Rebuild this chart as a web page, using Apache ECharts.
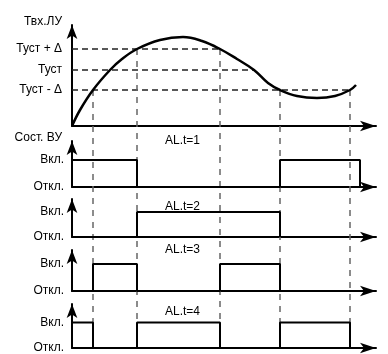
<!DOCTYPE html>
<html>
<head>
<meta charset="utf-8">
<script src="https://cdn.jsdelivr.net/npm/echarts@6/dist/echarts.min.js"></script>
<style>
html, body { margin: 0; padding: 0; background: #fff; }
#chart { width: 388px; height: 354px; }
</style>
</head>
<body>
<div id="chart"></div>
<script>
// входной сигнал ЛУ: время и значение
const curveT = [0, 8, 21, 38, 50, 65, 88, 111, 130, 148, 165, 182, 196, 208, 225, 245, 263, 278, 284]
const curveV = [0, 16, 36, 56, 67, 77, 86, 89, 85, 77, 67, 56, 43, 36, 30, 28, 30, 36, 41]

// уставки
const thresholdNames = ['Туст - Δ', 'Туст', 'Туст + Δ']
const thresholdValues = [36, 56, 77]
const thresholdEnds = [278, 182, 148]

// моменты пересечения уставок
const switchTimes = [21, 65, 148, 208, 278]
const switchLevels = [36, 77, 77, 36, 36]

// состояние ВУ
const stateLabels = ['Откл.', 'Вкл.']
const alNames = ['AL.t=1', 'AL.t=2', 'AL.t=3', 'AL.t=4']
const alEdges = [
  [0, 65, 208, 288],
  [0, 65, 208],
  [0, 21, 65, 148, 208],
  [0, 21, 65, 148, 208, 278]
]
const alStates = [
  [1, 0, 1, 0],
  [0, 1, 0],
  [0, 1, 0, 1, 0],
  [1, 0, 1, 0, 1, 0]
]

// раскладка
const T_MAX = 304
const V_MAX = 101
const topGrid = { left: 72, right: 12, top: 25, height: 101 }
const stepGrids = [
  { top: 141, height: 46, max: 1.70, labelY: 141 },
  { top: 199, height: 38, max: 1.52, labelY: 207 },
  { top: 250, height: 41, max: 1.52, labelY: 250 },
  { top: 304, height: 45, max: 1.73, labelY: 312 }
]
const overlay = { top: 25, height: 324 }
const OV_MIN = V_MAX - overlay.height

const FONT = 'Liberation Sans, Arial, sans-serif'

const axisLineStyle = (size) => ({
  show: true,
  symbol: ['none', 'arrow'],
  symbolSize: size,
  lineStyle: { color: '#000', width: 2 }
})

const makeX = (gi) => ({
  type: 'value', gridIndex: gi, min: 0, max: T_MAX,
  axisLine: axisLineStyle([8, 16]),
  axisTick: { show: false }, axisLabel: { show: false }, splitLine: { show: false }
})

const grids = [topGrid]
stepGrids.forEach(g => grids.push({ left: 72, right: 12, top: g.top, height: g.height }))
grids.push({ left: 72, right: 12, top: overlay.top, height: overlay.height })

const xAxes = []
const yAxes = []
for (let i = 0; i <= stepGrids.length; i++) xAxes.push(makeX(i))

yAxes.push({
  type: 'value', gridIndex: 0, min: 0, max: V_MAX,
  axisLine: axisLineStyle([8, 14]),
  axisTick: { show: false }, splitLine: { show: false },
  axisLabel: {
    customValues: thresholdValues,
    formatter: (v) => thresholdNames[thresholdValues.indexOf(v)] || '',
    color: '#000', fontSize: 12, fontFamily: FONT, margin: 10
  }
})
stepGrids.forEach((g, i) => {
  yAxes.push({
    type: 'value', gridIndex: i + 1, min: 0, max: g.max,
    axisLine: axisLineStyle([8, 14]),
    axisTick: { show: false }, splitLine: { show: false },
    axisLabel: {
      customValues: [0, 1],
      formatter: (v) => stateLabels[v] || '',
      color: '#000', fontSize: 12, fontFamily: FONT, margin: 8
    }
  })
})
// скрытая сетка для вертикальных пунктиров
const ovIdx = stepGrids.length + 1
xAxes.push({ type: 'value', gridIndex: ovIdx, min: 0, max: T_MAX, show: false })
yAxes.push({ type: 'value', gridIndex: ovIdx, min: OV_MIN, max: V_MAX, show: false })

const series = [
  {
    type: 'lines', coordinateSystem: 'cartesian2d', xAxisIndex: 0, yAxisIndex: 0,
    polyline: true, z: 1,
    lineStyle: { color: '#222', width: 1.5, type: [6, 4], opacity: 1 },
    data: thresholdValues.map((v, i) => ({ coords: [[0, v], [thresholdEnds[i], v]] }))
  },
  {
    type: 'lines', coordinateSystem: 'cartesian2d', xAxisIndex: ovIdx, yAxisIndex: ovIdx,
    polyline: true, z: 1,
    lineStyle: { color: '#666', width: 1.5, type: [6, 6], opacity: 1 },
    data: switchTimes.map((t, i) => ({ coords: [[t, switchLevels[i]], [t, OV_MIN]] }))
  },
  {
    type: 'line', xAxisIndex: 0, yAxisIndex: 0, z: 3,
    data: curveT.map((t, i) => [t, curveV[i]]),
    smooth: 0.4, symbol: 'none',
    lineStyle: { color: '#000', width: 2.5 }
  }
]
alEdges.forEach((edges, i) => {
  series.push({
    type: 'line', xAxisIndex: i + 1, yAxisIndex: i + 1, z: 3,
    step: 'end', symbol: 'none',
    data: edges.map((t, k) => [t, alStates[i][k]]),
    lineStyle: { color: '#000', width: 2 }
  })
})

const texts = [
  { type: 'text', x: 62, y: 22, style: { text: 'Твх.ЛУ', align: 'right', verticalAlign: 'middle', font: '12px ' + FONT, fill: '#000' } },
  { type: 'text', x: 62, y: 138, style: { text: 'Сост. ВУ', align: 'right', verticalAlign: 'middle', font: '12px ' + FONT, fill: '#000' } }
]
stepGrids.forEach((g, i) => {
  texts.push({ type: 'text', x: 165, y: g.labelY, style: { text: alNames[i], align: 'left', verticalAlign: 'middle', font: '12px ' + FONT, fill: '#000' } })
})

const chart = echarts.init(document.getElementById('chart'))
chart.setOption({
  animation: false,
  backgroundColor: '#fff',
  grid: grids,
  xAxis: xAxes,
  yAxis: yAxes,
  series: series,
  graphic: texts
})
</script>
</body>
</html>
